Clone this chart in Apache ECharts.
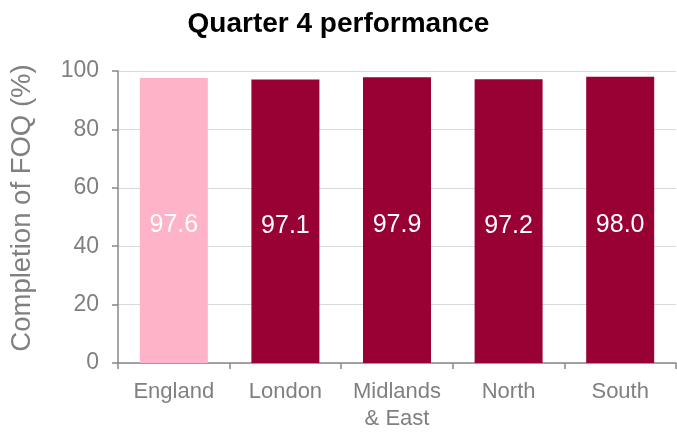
<!DOCTYPE html>
<html><head><meta charset="utf-8">
<script src="https://cdn.jsdelivr.net/npm/echarts@6/dist/echarts.min.js"></script>
<style>html,body{margin:0;padding:0;background:#fff}#c{width:677px;height:434px}</style>
</head><body><div id="c"></div>
<script>
const categories = ['England', 'London', 'Midlands\n& East', 'North', 'South'];
const values = [97.6, 97.1, 97.9, 97.2, 98.0];
const yTicks = [0, 20, 40, 60, 80, 100];
const colors = ['#FFB3C8', '#990033', '#990033', '#990033', '#990033'];

const FONT = 'Liberation Sans, Arial, sans-serif';
const chart = echarts.init(document.getElementById('c'), null, {renderer: 'canvas'});
chart.setOption({
  animation: false,
  title: {
    text: 'Quarter 4 performance', left: 'center', top: 5,
    textStyle: {fontFamily: FONT, fontWeight: 'bold', fontSize: 28, color: '#000'}
  },
  grid: {left: 117, right: 1, top: 71, bottom: 71},
  xAxis: {
    type: 'category', data: categories,
    axisLine: {lineStyle: {color: '#888', width: 1.5}},
    axisTick: {show: true, length: 6, lineStyle: {color: '#888', width: 1.5}},
    axisLabel: {interval: 0, fontFamily: FONT, fontSize: 22, color: '#808080', margin: 15, lineHeight: 27}
  },
  yAxis: {
    type: 'value', min: yTicks[0], max: yTicks[yTicks.length - 1], interval: 20,
    name: 'Completion of FOQ (%)', nameLocation: 'middle', nameGap: 82, nameRotate: 90,
    nameTextStyle: {fontFamily: FONT, fontSize: 27.5, color: '#808080', padding: [0, 0, 0, 18]},
    axisLine: {show: true, lineStyle: {color: '#888', width: 1.5}},
    axisTick: {show: true, length: 6, lineStyle: {color: '#888', width: 1.5}},
    splitLine: {lineStyle: {color: '#d9d9d9', width: 1}},
    axisLabel: {fontFamily: FONT, fontSize: 23, color: '#808080', margin: 19}
  },
  series: [{
    type: 'bar', barWidth: 68,
    data: values.map((v, i) => ({value: v, itemStyle: {color: colors[i]}})),
    label: {show: true, position: 'inside', offset: [0, 5], color: '#fff', fontFamily: FONT, fontSize: 25,
      formatter: p => p.value.toFixed(1)}
  }]
});
</script></body></html>
